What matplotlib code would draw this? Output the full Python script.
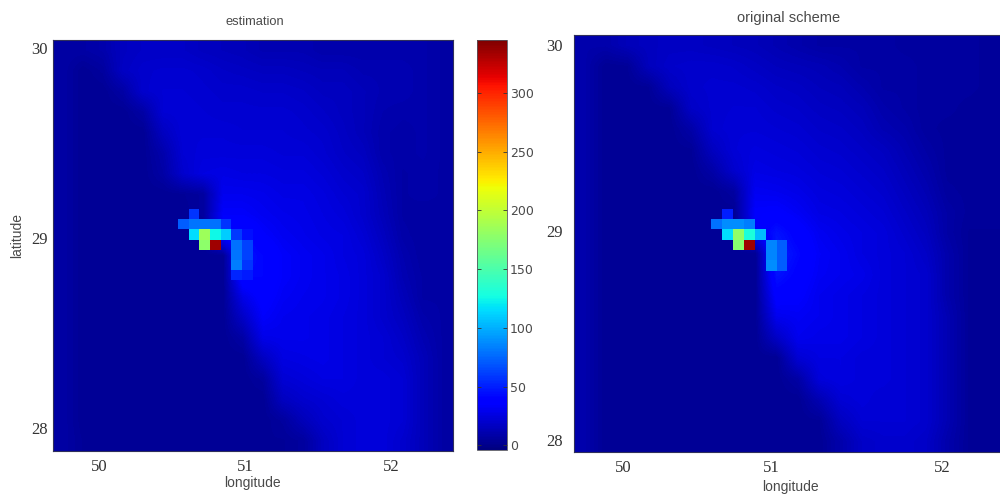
import numpy as np
import matplotlib
matplotlib.use("Agg")
import matplotlib.pyplot as plt

W, H = 1000.0, 495.0

# coarse field, top row first
field_left = [
    [8, 8, 10, 16, 18, 18, 18, 16, 15, 14, 12, 12, 12, 10, 10, 10, 10, 10, 10, 8],
    [8, 3, 6, 17, 20, 21, 21, 20, 18, 17, 16, 16, 15, 14, 14, 12, 12, 12, 10, 8],
    [8, 3, 3, 8, 20, 22, 22, 21, 20, 20, 19, 19, 18, 16, 16, 14, 12, 12, 10, 8],
    [8, 3, 3, 3, 8, 22, 23, 22, 21, 21, 21, 21, 20, 18, 16, 14, 11, 10, 10, 8],
    [8, 3, 3, 3, 3, 16, 23, 23, 23, 22, 22, 22, 21, 20, 17, 14, 10, 9, 10, 8],
    [8, 3, 3, 3, 3, 10, 22, 24, 24, 24, 24, 23, 23, 21, 18, 16, 10, 9, 10, 8],
    [8, 3, 3, 3, 3, 8, 20, 26, 27, 26, 26, 25, 25, 23, 20, 18, 12, 8, 9, 8],
    [8, 3, 3, 3, 3, 3, 4, 6, 30, 30, 29, 27, 27, 25, 22, 20, 13, 8, 9, 8],
    [8, 3, 3, 3, 3, 3, 3, 6, 34, 34, 31, 29, 28, 26, 24, 20, 14, 8, 7, 8],
    [8, 3, 3, 3, 3, 3, 3, 3, 38, 44, 35, 31, 29, 27, 26, 22, 16, 9, 7, 8],
    [8, 3, 3, 3, 3, 3, 3, 3, 3, 46, 41, 34, 31, 29, 26, 24, 18, 11, 7, 8],
    [8, 3, 3, 3, 3, 3, 3, 3, 3, 42, 41, 34, 31, 29, 27, 24, 20, 12, 8, 8],
    [8, 3, 3, 3, 3, 3, 3, 3, 3, 28, 38, 32, 30, 29, 27, 24, 20, 14, 8, 8],
    [8, 3, 3, 3, 3, 3, 3, 3, 3, 18, 34, 30, 29, 28, 26, 24, 20, 16, 10, 8],
    [8, 3, 3, 3, 3, 3, 3, 3, 3, 8, 28, 29, 29, 28, 26, 24, 22, 18, 12, 8],
    [8, 3, 3, 3, 3, 3, 3, 3, 3, 3, 16, 26, 27, 28, 26, 24, 22, 20, 14, 8],
    [8, 3, 3, 3, 3, 3, 3, 3, 3, 3, 6, 22, 24, 26, 26, 24, 24, 22, 14, 8],
    [8, 3, 3, 3, 3, 3, 3, 3, 3, 3, 3, 16, 20, 22, 24, 24, 24, 22, 14, 8],
    [8, 3, 3, 3, 3, 3, 3, 3, 3, 3, 3, 6, 14, 20, 22, 24, 24, 22, 14, 8],
    [8, 4, 4, 4, 4, 4, 4, 4, 4, 4, 4, 4, 6, 16, 22, 24, 24, 20, 14, 8],
]

# same for the right panel
field_right = [
    [10, 10, 14, 16, 17, 17, 16, 15, 14, 12, 10, 8, 8, 8, 8, 6, 6, 6, 6, 5],
    [10, 3, 4, 15, 19, 20, 20, 19, 17, 15, 14, 13, 11, 8, 8, 8, 6, 6, 6, 5],
    [10, 3, 3, 4, 15, 20, 21, 21, 20, 18, 17, 15, 14, 11, 8, 8, 6, 6, 6, 5],
    [10, 3, 3, 3, 4, 18, 21, 22, 22, 20, 19, 17, 16, 14, 10, 8, 6, 6, 5, 5],
    [10, 3, 3, 3, 3, 9, 21, 23, 23, 22, 21, 19, 18, 16, 12, 10, 6, 5, 5, 5],
    [10, 3, 3, 3, 3, 4, 16, 23, 25, 24, 23, 21, 20, 18, 16, 12, 8, 5, 5, 5],
    [10, 3, 3, 3, 3, 3, 9, 20, 27, 26, 25, 23, 22, 20, 18, 14, 10, 5, 5, 5],
    [10, 3, 3, 3, 3, 3, 3, 7, 31, 30, 28, 25, 24, 22, 20, 16, 12, 6, 5, 5],
    [10, 3, 3, 3, 3, 3, 3, 3, 35, 36, 32, 27, 26, 24, 22, 18, 14, 8, 5, 5],
    [10, 3, 3, 3, 3, 3, 3, 3, 33, 46, 38, 31, 28, 26, 24, 20, 16, 8, 4, 4],
    [10, 3, 3, 3, 3, 3, 3, 3, 3, 50, 42, 33, 30, 26, 24, 22, 18, 10, 4, 4],
    [10, 3, 3, 3, 3, 3, 3, 3, 3, 46, 39, 32, 30, 28, 24, 22, 20, 10, 4, 4],
    [10, 3, 3, 3, 3, 3, 3, 3, 3, 38, 36, 30, 28, 26, 24, 22, 20, 10, 4, 4],
    [10, 3, 3, 3, 3, 3, 3, 3, 3, 30, 32, 30, 28, 26, 24, 22, 20, 12, 4, 4],
    [10, 3, 3, 3, 3, 3, 3, 3, 3, 18, 30, 28, 28, 26, 24, 22, 20, 12, 4, 4],
    [10, 3, 3, 3, 3, 3, 3, 3, 3, 3, 22, 26, 26, 24, 24, 22, 20, 12, 4, 4],
    [10, 3, 3, 3, 3, 3, 3, 3, 3, 3, 8, 24, 26, 24, 24, 22, 20, 12, 4, 4],
    [10, 3, 3, 3, 3, 3, 3, 3, 3, 3, 3, 12, 22, 24, 22, 22, 20, 12, 4, 4],
    [10, 3, 3, 3, 3, 3, 3, 3, 3, 3, 3, 4, 16, 22, 22, 22, 20, 12, 4, 4],
    [10, 3, 3, 3, 3, 3, 3, 3, 3, 3, 3, 3, 10, 18, 20, 20, 18, 10, 4, 4],
]

# the hot cells near the coast, NaN = nothing on top of the coarse field
n = np.nan
hot_left = [
    [n, 58, n, n, n, n, n],
    [72, 80, 80, 78, 58, n, n],
    [n, 115, 185, 125, 110, 60, 45],
    [n, n, 178, 335, n, 78, 62],
    [n, n, n, n, n, 80, 62],
    [n, n, n, n, n, 82, 58],
    [n, n, n, n, n, 52, 48],
]
hot_right = [
    [n, 50, n, n, n, n, n],
    [78, 88, 88, 82, n, n, n],
    [n, 115, 180, 130, 105, n, n],
    [n, n, 175, 335, n, 85, 72],
    [n, n, n, n, n, 85, 72],
    [n, n, n, n, n, 88, 72],
    [n, n, n, n, n, n, n],
]

lon_ticks = [50, 51, 52]
lat_ticks = [28, 29, 30]
cbar_ticks = [0, 50, 100, 150, 200, 250, 300]

# the labels of the right panel were placed by hand in the original
right_lon_pos = [50, 51, 52.155]
right_lat_pos = [28, 29.06, 30]


def make_axes(x0, x1, y0, y1):
    return fig.add_axes([x0 / W, 1 - y1 / H, (x1 - x0) / W, (y1 - y0) / H])


def draw_panel(ax, field, hot, xlim, ylim, hot_lon, hot_lat, dlon, dlat):
    im = ax.imshow(field, extent=[xlim[0], xlim[1], ylim[0], ylim[1]], aspect="auto",
                   cmap="jet", vmin=VMIN, vmax=VMAX, interpolation="bilinear")
    lon_edges = hot_lon + dlon * np.arange(8)
    lat_edges = hot_lat - dlat * np.arange(8)
    ax.pcolormesh(lon_edges, lat_edges, np.ma.masked_invalid(hot), cmap="jet",
                  vmin=VMIN, vmax=VMAX, antialiased=False)
    ax.set_xlim(xlim)
    ax.set_ylim(ylim)
    for s in ax.spines.values():
        s.set_color("#30305a")
        s.set_linewidth(0.8)
    return im


def label(x, y, txt, **kw):
    fig.text(x / W, 1 - y / H, txt, ha="center", va="center", color=GREY,
             family="Liberation Sans", **kw)


VMIN, VMAX = -4, 345
SERIF = "Liberation Serif"
GREY = "#4a4a4a"

fig = plt.figure(figsize=(10, 4.95), dpi=100)

# left panel
ax1 = make_axes(53, 453, 40, 451)
im = draw_panel(ax1, field_left, hot_left, (49.68, 52.42), (27.88, 30.04),
                50.535, 29.152, 0.0735, 0.0535)
ax1.set_xticks(lon_ticks)
ax1.set_yticks(lat_ticks)
ax1.tick_params(length=0, labelsize=12, colors="#333333", pad=4)
ax1.tick_params(axis="x", pad=6)
for t in ax1.get_xticklabels() + ax1.get_yticklabels():
    t.set_family(SERIF)
label(255, 22, "estimation", fontsize=9.3)
label(252, 483, "longitude", fontsize=10)
label(17, 236, "latitude", fontsize=10, rotation=90)

# colorbar
cax = make_axes(477, 507, 40, 450)
cb = fig.colorbar(im, cax=cax, ticks=cbar_ticks)
cb.ax.tick_params(direction="in", length=3, width=0.6, left=True, right=True,
                  labelsize=9, labelcolor=GREY, color="#333333", pad=2)
cb.outline.set_edgecolor("#55555f")
cb.outline.set_linewidth(0.6)

# right panel, the frame runs off the edge of the picture
ax2 = make_axes(574, 1001, 35, 452)
draw_panel(ax2, field_right, hot_right, (49.67, 52.55), (27.94, 30.05),
           50.595, 29.172, 0.0735, 0.0525)
ax2.set_xticks(right_lon_pos, lon_ticks)
ax2.set_yticks(right_lat_pos, lat_ticks)
ax2.tick_params(length=0, labelsize=12, colors="#333333", pad=8)
ax2.tick_params(axis="x", pad=6)
for t in ax2.get_xticklabels() + ax2.get_yticklabels():
    t.set_family(SERIF)
label(789, 18, "original scheme", fontsize=10.5)
label(790, 487, "longitude", fontsize=10)

fig.savefig("out.png", dpi=100)
